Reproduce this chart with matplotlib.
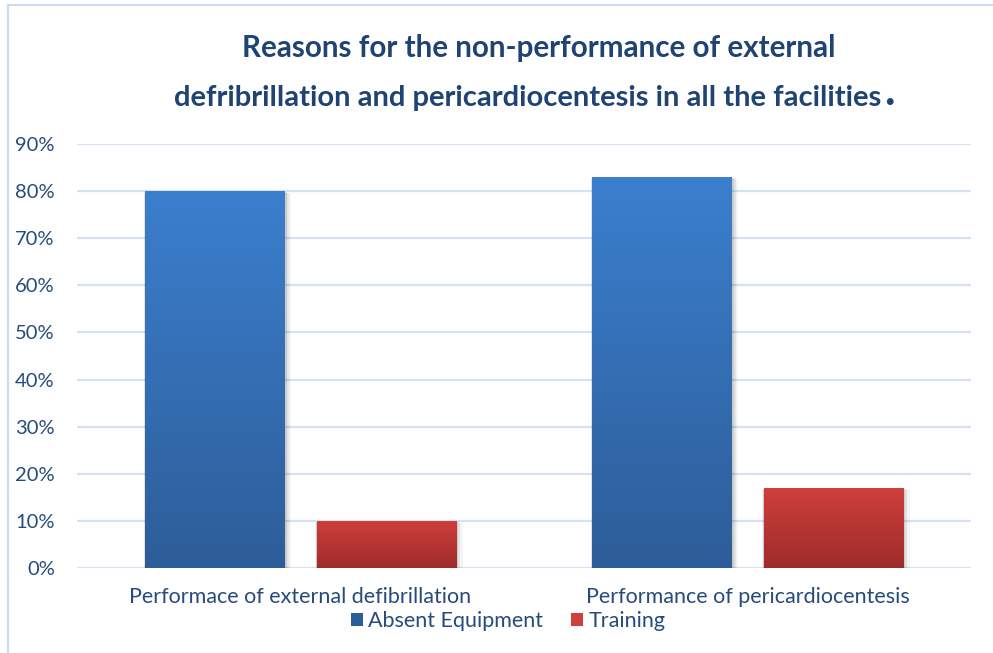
import matplotlib

matplotlib.use("Agg")
import matplotlib.pyplot as plt
import numpy as np
from matplotlib.colors import LinearSegmentedColormap
from matplotlib.lines import Line2D
from matplotlib.patches import Rectangle

plt.rcParams["font.family"] = ["Lato", "DejaVu Sans"]

# data
categories = ["Performace of external defibrillation", "Performance of pericardiocentesis"]
series = ["Absent Equipment", "Training"]
absent_equipment = [80, 83]
training = [10, 17]
yticks = [0, 10, 20, 30, 40, 50, 60, 70, 80, 90]
title_lines = ["Reasons for the non-performance of external",
               "defribrillation and pericardiocentesis in all the facilities"]

TEXT = "#264B7C"
TITLE = "#1F4373"
GRID = "#D6E2F3"
# (top, bottom) colours for the vertical gradient of each series
GRAD = [("#3B7FCE", "#2D5D98"), ("#D03F3C", "#9E2B2B")]

fig = plt.figure(figsize=(9.93, 6.53), dpi=100)
W, H = 993, 653
ax = fig.add_axes([77 / W, (H - 568) / H, (971 - 77) / W, (568 - 144) / H])

x = np.arange(len(categories))
width = 0.311
offset = 0.192

for k, (vals, (c_top, c_bot)) in enumerate(zip([absent_equipment, training], GRAD)):
    cmap = LinearSegmentedColormap.from_list(f"g{k}", [c_bot, c_top])
    pos = x - offset if k == 0 else x + offset
    bars = ax.bar(pos, vals, width, color="none", edgecolor="none", zorder=3,
                  label=series[k])
    for b in bars:
        bx, by = b.get_x(), b.get_y()
        bw, bh = b.get_width(), b.get_height()
        # soft drop shadow
        for i, a in enumerate([0.10, 0.07, 0.04]):
            d = 0.004 * (i + 1)
            ax.add_patch(Rectangle((bx - d * 0.3, by - 0.35 * (i + 1)), bw + d * 1.6, bh + 0.2 * (i + 1),
                                   facecolor="#000000", alpha=a, edgecolor="none", zorder=2))
        grad = np.linspace(0, 1, 256).reshape(-1, 1)
        im = ax.imshow(grad, cmap=cmap, aspect="auto", origin="lower",
                       extent=(bx, bx + bw, by, by + bh), zorder=3)
        im.set_clip_path(b)

ax.set_xlim(-0.5, 1.5)
ax.set_ylim(0, 90)
ax.set_yticks(yticks)
ax.set_yticklabels([f"{t}%" for t in yticks])
ax.set_xticks(x)
ax.set_xticklabels(categories)
ax.tick_params(axis="y", length=0, pad=16, labelsize=14.5, labelcolor=TEXT)
ax.tick_params(axis="x", length=0, pad=14, labelsize=15.5, labelcolor=TEXT)
ax.grid(axis="y", color=GRID, linewidth=1.6, zorder=0)
ax.set_axisbelow(True)
for s in ax.spines.values():
    s.set_visible(False)

# legend
handles = [Rectangle((0, 0), 1, 1, facecolor=GRAD[0][1]),
           Rectangle((0, 0), 1, 1, facecolor=GRAD[1][0])]
leg = fig.legend(handles, series, loc="center", bbox_to_anchor=(508 / W, (H - 621) / H),
                 ncol=2, frameon=False, fontsize=15.5, handlelength=0.55, handleheight=0.55,
                 handletextpad=0.25, columnspacing=1.3, labelcolor=TEXT,
                 borderpad=0.1)

# title
fig.text(539 / W, (H - 48) / H, title_lines[0], ha="center", va="center",
         fontsize=21.3, fontweight="bold", color=TITLE)
t2 = fig.text(528 / W, (H - 98) / H, title_lines[1], ha="center", va="center",
              fontsize=21, fontweight="bold", color=TITLE)
fig.canvas.draw()
ax.annotate(".", xy=(1, 0), xycoords=t2, xytext=(1.5, 4.5), textcoords="offset points",
            ha="left", va="baseline", fontsize=32, fontweight="bold", color=TITLE,
            annotation_clip=False)

# outer frame
fig.add_artist(Line2D([8 / W, 8 / W], [0, (H - 5) / H], color="#CCDCEF", linewidth=1.5))
fig.add_artist(Line2D([8 / W, 1], [(H - 5) / H, (H - 5) / H], color="#CCDCEF", linewidth=1.5))

fig.savefig("out.png", dpi=100)
